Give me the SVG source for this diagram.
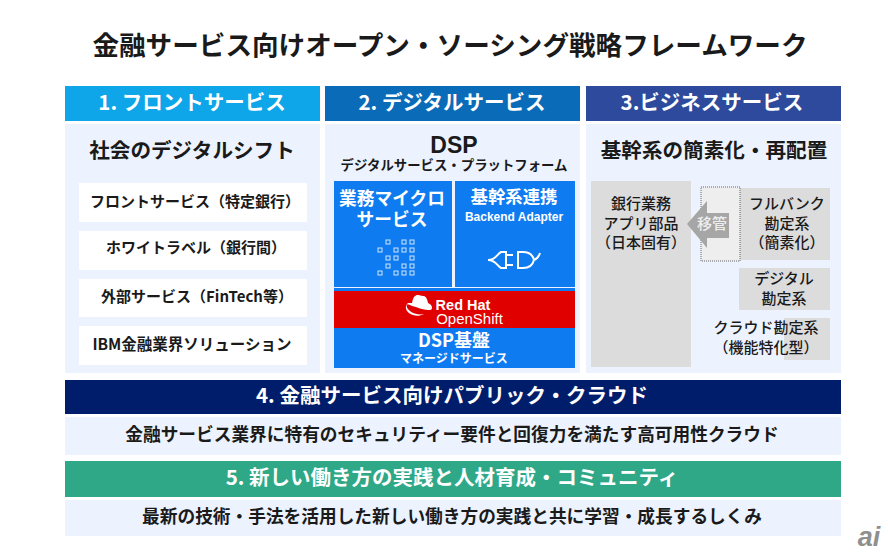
<svg xmlns="http://www.w3.org/2000/svg" width="888" height="559" viewBox="0 0 888 559">
<style>
text{font-family:"Noto Sans CJK JP","Noto Sans",sans-serif;text-anchor:middle;font-weight:700;fill:#1a1a1a}
.w{fill:#fff}
.h{font-size:20.5px;fill:#fff}
.s{font-size:20.6px}
.i{font-size:15px}
.g{font-size:15px;font-weight:500}
.r{font-size:17.7px}
.lat{font-family:"Liberation Sans",sans-serif}
.body{fill:#ecf3fe}
.card{fill:#fff}
.blue{fill:#0f7bf0}
.gray{fill:#dcdcdc}
.sq{fill:none;stroke:#cfe4fb;stroke-width:1}
</style>
<rect width="888" height="559" fill="#fff"/>
<text id="title" x="450" y="55" font-size="26.6">金融サービス向けオープン・ソーシング戦略フレームワーク</text>
<g id="col1">
<rect x="65" y="86" width="255" height="35" fill="#0ea5e9"/>
<text class="h" x="192" y="110">1. フロントサービス</text>
<rect class="body" x="65" y="124" width="255" height="249"/>
<text class="s" x="192" y="158">社会のデジタルシフト</text>
<rect class="card" x="79" y="183" width="228" height="39"/><text class="i" x="195" y="207">フロントサービス（特定銀行）</text>
<rect class="card" x="79" y="231" width="228" height="39"/><text class="i" x="196" y="253">ホワイトラベル（銀行間）</text>
<rect class="card" x="79" y="279" width="228" height="38"/><text class="i" x="197" y="302">外部サービス（FinTech等）</text>
<rect class="card" x="79" y="326" width="228" height="39"/><text x="192" y="350" style="font-size:15.5px">IBM金融業界ソリューション</text>
</g>
<g id="col2">
<rect x="325" y="86" width="255" height="35" fill="#0a6cb8"/>
<text class="h" x="452" y="110">2. デジタルサービス</text>
<rect class="body" x="325" y="124" width="255" height="249"/>
<text class="lat" x="454" y="153" font-size="23">DSP</text>
<text x="454" y="170" font-size="13.4">デジタルサービス・プラットフォーム</text>
<g id="micro">
<rect class="blue" x="334" y="181" width="118" height="106"/>
<text class="w" x="392" y="205" font-size="17.7">業務マイクロ</text>
<text class="w" x="392" y="226" font-size="17.7">サービス</text>
<g class="sq">
<rect x="386" y="240" width="4" height="4"/><rect x="402" y="240" width="4" height="4"/><rect x="410" y="240" width="4" height="4"/>
<rect x="378" y="248" width="4" height="4"/><rect x="394" y="248" width="4" height="4"/><rect x="402" y="248" width="4" height="4"/><rect x="410" y="248" width="4" height="4"/>
<rect x="386" y="256" width="4" height="4"/><rect x="394" y="256" width="4" height="4"/><rect x="410" y="256" width="4" height="4"/>
<rect x="386" y="264" width="4" height="4"/><rect x="402" y="264" width="4" height="4"/><rect x="410" y="264" width="4" height="4"/>
<rect x="378" y="271" width="4" height="4"/><rect x="394" y="271" width="4" height="4"/><rect x="402" y="271" width="4" height="4"/><rect x="410" y="271" width="4" height="4"/>
</g>
</g>
<g id="adapter">
<rect class="blue" x="455" y="181" width="120" height="106"/>
<text class="w" x="514" y="203" font-size="17.4">基幹系連携</text>
<text class="w lat" x="514" y="221" font-size="12">Backend Adapter</text>
<path d="M488 260C496 260 497 254 501 252H506V268H501C497 266 496 260 488 260M506 255H513M506 265H513M518 252H523C530 252 533 256 534 260C533 264 530 268 523 268H518ZM534 260C537 259 539 256 540 253" fill="none" stroke="#fff" stroke-width="2"/>
</g>
<g id="base">
<rect class="blue" x="334" y="288" width="241" height="80"/>
<rect x="334" y="291" width="241" height="37" fill="#e00000"/>
<path d="M412 303C413 297 415 295 418 295C420 295 421 296 423 296C425 296 427 297 428 303C431 304 432 306 432 308C432 310 430 310 428 310C423 310 417 307 412 306C410 305 408 304 407 304C406 306 407 309 410 311C413 314 420 315 424 314C419 317 413 316 409 313C405 310 405 305 408 303C409 303 411 303 412 303Z" fill="#fff"/>
<text class="w lat" x="463" y="310" font-size="14.5">Red Hat</text>
<text class="w lat" x="469.5" y="324" font-size="15" style="font-weight:400">OpenShift</text>
<text class="w" x="454" y="347" font-size="18">DSP基盤</text>
<text class="w" x="454" y="363" font-size="12">マネージドサービス</text>
</g>
</g>
<g id="col3">
<rect x="586" y="86" width="255" height="35" fill="#2d4a9c"/>
<text class="h" x="712" y="110">3.ビジネスサービス</text>
<rect class="body" x="586" y="124" width="255" height="249"/>
<text class="s" x="714" y="158">基幹系の簡素化・再配置</text>
<g id="apps">
<rect class="gray" x="591" y="181" width="100" height="186"/>
<text class="g" x="641" y="209">銀行業務</text>
<text class="g" x="641" y="229">アプリ部品</text>
<text class="g" x="641" y="248">（日本固有）</text>
</g>
<g id="fullbank">
<rect class="gray" x="740" y="188" width="90" height="72"/>
<text class="g" x="787" y="209">フルバンク</text>
<text class="g" x="787" y="229">勘定系</text>
<text class="g" x="787" y="248">（簡素化）</text>
</g>
<g id="move">
<rect x="701" y="187" width="39" height="74" fill="#eeeeee" stroke="#666" stroke-width="1" stroke-dasharray="1 1"/>
<path d="M687 224L707 201V213H729V238H707V248Z" fill="#a6a6a6"/>
<text class="w" x="712" y="229" style="font-size:15px;font-weight:500;fill:#eee">移管</text>
</g>
<g id="digital">
<rect class="gray" x="739" y="268" width="91" height="42"/>
<text class="g" x="784" y="284">デジタル</text>
<text class="g" x="784" y="304">勘定系</text>
</g>
<g id="cloud">
<rect class="gray" x="784" y="318" width="46" height="42"/>
<text class="g" x="766" y="333">クラウド勘定系</text>
<text class="g" x="766" y="353">（機能特化型）</text>
</g>
</g>
<g id="row4">
<rect x="65" y="380" width="776" height="34" fill="#001d6c"/>
<text class="h" x="452" y="403">4. 金融サービス向けパブリック・クラウド</text>
<rect class="body" x="65" y="417" width="776" height="38"/>
<text class="r" x="452" y="441">金融サービス業界に特有のセキュリティー要件と回復力を満たす高可用性クラウド</text>
</g>
<g id="row5">
<rect x="65" y="461" width="776" height="36" fill="#2fa888"/>
<text class="h" x="452" y="485">5. 新しい働き方の実践と人材育成・コミュニティ</text>
<rect class="body" x="65" y="500" width="776" height="36"/>
<text class="r" x="452" y="523">最新の技術・手法を活用した新しい働き方の実践と共に学習・成長するしくみ</text>
</g>
<text id="logo" x="869" y="546" font-size="27" style="font-family:'Liberation Sans',sans-serif;font-style:italic;fill:#8f8f8f">ai</text>
</svg>
